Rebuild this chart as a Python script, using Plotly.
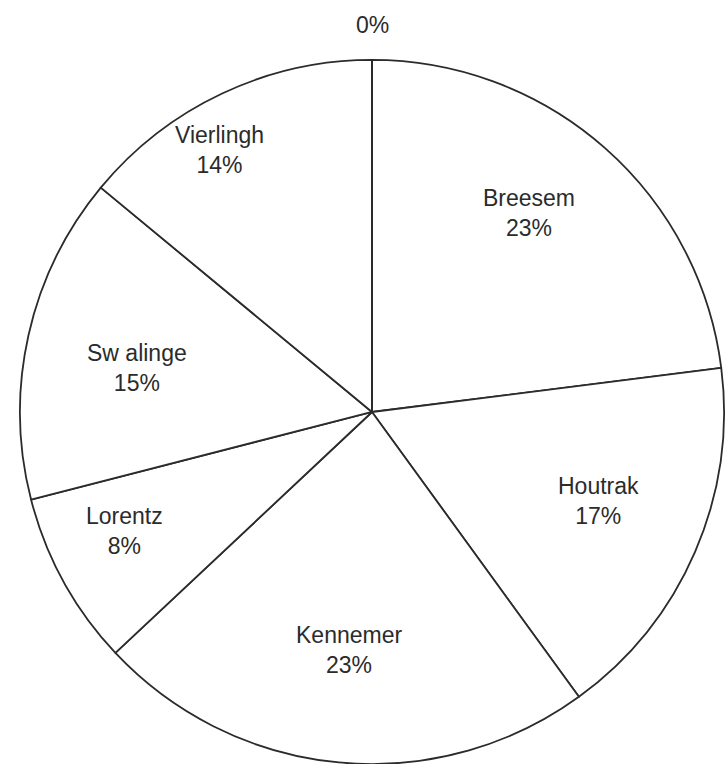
import math
import plotly.graph_objects as go

# Share per district, clockwise from 12 o'clock (last slice is an empty category)
districts = ["Breesem", "Houtrak", "Kennemer", "Lorentz", "Sw alinge", "Vierlingh", ""]
shares = [23, 17, 23, 8, 15, 14, 0]

# Label placement: distance from centre as a fraction of the radius, and angular nudge (deg)
label_radius = [0.72, 0.69, 0.68, 0.78, 0.68, 0.86, 1.10]
label_nudge = [-3, -2, 0, 3, -2, -5, 0]

W, H = 727, 764
dom_x = [0.0275, 0.9959]
dom_y = [0.0, 0.9215]
ink = "#2b2b2b"
font = dict(family="Liberation Sans, Arial, sans-serif", size=23, color=ink)

fig = go.Figure(
    go.Pie(
        labels=districts,
        values=shares,
        sort=False,
        direction="clockwise",
        rotation=0,
        textinfo="none",
        marker=dict(colors=["white"] * len(shares), line=dict(color=ink, width=1.8)),
        showlegend=False,
        hoverinfo="skip",
        domain=dict(x=dom_x, y=dom_y),
    )
)

# Pie geometry in pixels (paper y measured from the bottom)
cx = (dom_x[0] + dom_x[1]) / 2 * W
cy = (dom_y[0] + dom_y[1]) / 2 * H
radius = min((dom_x[1] - dom_x[0]) * W, (dom_y[1] - dom_y[0]) * H) / 2

total = sum(shares)
start = 0.0
for name, v, rf, nudge in zip(districts, shares, label_radius, label_nudge):
    frac = v / total
    mid = math.radians((start + frac / 2) * 360 + nudge)
    start += frac
    r = rf * radius
    x = (cx + r * math.sin(mid)) / W
    y = (cy + r * math.cos(mid)) / H
    pct = f"{round(frac * 100):d}%"
    text = f"{name}<br>{pct}" if name else pct
    fig.add_annotation(
        x=x, y=y, xref="paper", yref="paper",
        text=text, showarrow=False, font=font,
        xanchor="center", yanchor="middle", align="center",
    )

fig.update_layout(
    width=W,
    height=H,
    margin=dict(l=0, r=0, t=0, b=0),
    paper_bgcolor="white",
    plot_bgcolor="white",
)

fig.write_html("out.html")
